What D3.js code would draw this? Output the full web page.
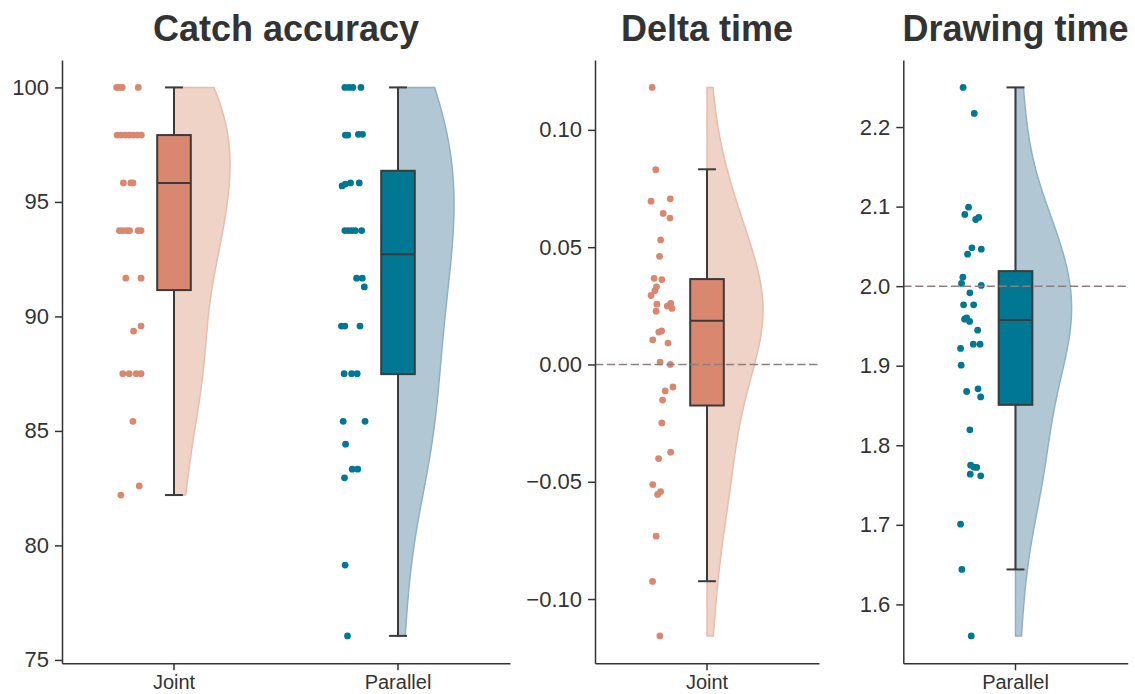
<!DOCTYPE html>
<html>
<head>
<meta charset="utf-8">
<script src="https://cdn.jsdelivr.net/npm/d3@7"></script>
<style>
body { margin: 0; background: #fff; }
text { font-family: "Liberation Sans", Arial, sans-serif; fill: #333; }
</style>
</head>
<body>
<svg width="1135" height="694"></svg>
<script>
// Catch accuracy (%)
var catchCategories = ["Joint", "Parallel"];
var catchJoint = [100, 100, 100, 100,
  97.92, 97.92, 97.92, 97.92, 97.92, 97.92, 97.92,
  95.83, 95.83, 95.83,
  93.75, 93.75, 93.75, 93.75, 93.75, 93.75,
  91.67, 91.67, 89.58, 89.36,
  87.5, 87.5, 87.5, 87.5, 85.42, 82.6, 82.2];
var catchJointJitter = [-1.04, -0.83, -0.58, 0.75,
  -1.0, -0.67, -0.33, 0, 0.33, 0.67, 1.0,
  -0.48, 0.13, 0.31,
  -0.81, -0.53, -0.19, 0.03, 0.73, 0.98,
  -0.28, 0.98, 0.98, 0.36,
  -0.53, 0, 0.58, 0.98, 0.31, 0.83, -0.69];
var catchParallel = [100, 100, 100, 100,
  97.92, 97.92, 97.95, 97.95,
  95.7, 95.78, 95.83, 95.83,
  93.75, 93.75, 93.75, 93.75, 93.75,
  91.67, 91.67, 91.29,
  89.58, 89.58, 89.58,
  87.5, 87.5, 87.5, 85.42, 85.42, 84.42,
  83.33, 83.33, 82.95, 79.14, 76.05];
var catchParallelJitter = [-0.69, -0.36, -0.03, 0.64,
  -0.65, -0.44, 0.43, 0.77,
  -0.92, -0.65, -0.22, 0.5,
  -0.69, -0.4, -0.11, 0.18, 0.7,
  0.28, 0.75, 0.92,
  -0.97, -0.69, 0.56,
  -0.75, -0.13, 0.33, -0.83, 0.98, -0.63,
  -0.08, 0.37, -0.72, -0.67, -0.47];
// whisker low, q1, median, q3, whisker high
var catchBoxJoint = [82.2, 91.15, 95.83, 97.92, 100];
var catchBoxParallel = [76.05, 87.48, 92.72, 96.36, 100];
var catchTicks = [75, 80, 85, 90, 95, 100];

// Delta time
var deltaCategories = ["Joint"];
var deltaJoint = [0.1181, 0.0830, 0.0696, 0.0706, 0.0644, 0.0624, 0.0531, 0.0461,
  0.0367, 0.0362, 0.0331, 0.0314, 0.0294, 0.0257, 0.0260, 0.0249, 0.0239, 0.0227,
  0.0143, 0.0138, 0.0105, 0.0091, 0.0010, 0.0000, -0.0096, -0.0113, -0.0152,
  -0.0249, -0.0374, -0.0401, -0.0512, -0.0542, -0.0554, -0.0732, -0.0925, -0.1157];
var deltaJitter = [-0.83, -0.53, -0.92, 0.67, 0.08, 0.64, -0.13, -0.22,
  -0.67, -0.03, -0.47, -0.61, -0.92, -0.44, 0.7, 0.42, 0.81, -0.5,
  -0.05, -0.28, -0.78, 0.48, -0.17, 0.67, 0.89, 0.25, 0.03,
  -0.03, 0.7, -0.3, -0.78, -0.13, -0.38, -0.5, -0.8, -0.19];
var deltaBox = [-0.0924, -0.0175, 0.0186, 0.0364, 0.0832];
var deltaTicks = [-0.10, -0.05, 0.00, 0.05, 0.10];
var deltaRef = 0;

// Drawing time
var drawCategories = ["Parallel"];
var drawParallel = [2.2498, 2.2171, 2.0993, 2.0901, 2.0838, 2.0864, 2.0482, 2.0465,
  2.0402, 2.0113, 2.0034, 2.0009, 1.9916, 1.9765, 1.9765, 1.9585, 1.9602, 1.9556,
  1.9447, 1.9217, 1.9271, 1.9271, 1.9007, 1.8676, 1.8709, 1.8608, 1.8194, 1.7750,
  1.7725, 1.7721, 1.7637, 1.7616, 1.7008, 1.6439, 1.5604];
var drawJitter = [-0.62, 0.3, -0.17, -0.48, 0.42, 0.67, 0.11, 0.88,
  -0.25, -0.64, -0.75, 0.88, -0.06, -0.58, 0.25, -0.5, -0.33, -0.08,
  0.58, -0.83, 0.22, 0.78, -0.78, -0.33, 0.61, 0.83, -0.06, 0,
  0.28, 0.5, -0.03, 0.83, -0.83, -0.72, 0.05];
var drawBox = [1.6439, 1.8508, 1.9576, 2.0189, 2.2498];
var drawTicks = [1.6, 1.7, 1.8, 1.9, 2.0, 2.1, 2.2];
var drawRef = 2.0;

var colors = {
  Joint: {point: "#d9876f", box: "#d9886f", fill: "#efd3c7", edge: "#e8bdac"},
  Parallel: {point: "#007894", box: "#007894", fill: "#b1c8d4", edge: "#90b1c3"}
};

var plotTop = 60, plotBottom = 663.3;

var panels = [
  {title: "Catch accuracy", x0: 62, x1: 510, cats: catchCategories,
   groups: [{cat: "Joint", values: catchJoint, jitter: catchJointJitter, box: catchBoxJoint},
            {cat: "Parallel", values: catchParallel, jitter: catchParallelJitter, box: catchBoxParallel}],
   ticks: catchTicks, fmt: d3.format("d"), ref: null},
  {title: "Delta time", x0: 595, x1: 819, cats: deltaCategories,
   groups: [{cat: "Joint", values: deltaJoint, jitter: deltaJitter, box: deltaBox}],
   ticks: deltaTicks, fmt: d3.format(".2f"), ref: deltaRef},
  {title: "Drawing time", x0: 903.3, x1: 1127.7, cats: drawCategories,
   groups: [{cat: "Parallel", values: drawParallel, jitter: drawJitter, box: drawBox}],
   ticks: drawTicks, fmt: d3.format(".1f"), ref: drawRef}
];

var svg = d3.select("svg");

function kde(values, grid) {
  var n = values.length;
  var h = d3.deviation(values) * Math.pow(n, -0.2);
  return grid.map(function(g) {
    var s = d3.sum(values, function(v) {
      var u = (g - v) / h;
      return Math.exp(-0.5 * u * u);
    });
    return [g, s / (n * h * Math.sqrt(2 * Math.PI))];
  });
}

panels.forEach(function(p) {
  var all = d3.merge(p.groups.map(function(g) { return g.values; }));
  var ext = d3.extent(all);
  var pad = (ext[1] - ext[0]) * 0.05;
  var y = d3.scaleLinear().domain([ext[0] - pad, ext[1] + pad]).range([plotBottom, plotTop]);
  var x = d3.scaleBand().domain(p.cats).range([p.x0, p.x1]).padding(0);
  var bw = x.bandwidth();

  var g = svg.append("g");

  p.groups.forEach(function(grp) {
    var c = colors[grp.cat];
    var cx = x(grp.cat) + bw / 2;

    // half violin
    var lo = d3.min(grp.values), hi = d3.max(grp.values);
    var grid = d3.range(0, 101).map(function(i) { return lo + (hi - lo) * i / 100; });
    var dens = kde(grp.values, grid);
    var maxD = d3.max(dens, function(d) { return d[1]; });
    var w = d3.scaleLinear().domain([0, maxD]).range([0, bw * 0.25]);
    var area = d3.area()
      .y(function(d) { return y(d[0]); })
      .x0(cx)
      .x1(function(d) { return cx + w(d[1]); });
    g.append("path")
      .datum(dens)
      .attr("d", area)
      .attr("fill", c.fill)
      .attr("stroke", c.edge)
      .attr("stroke-width", 1.5);

    // jittered points
    g.selectAll(null)
      .data(grp.values.map(function(v, i) { return {v: v, j: grp.jitter[i]}; }))
      .enter()
      .append("circle")
      .attr("cx", function(d) { return cx - bw * 0.2 + d.j * bw * 0.054; })
      .attr("cy", function(d) { return y(d.v); })
      .attr("r", 3.4)
      .attr("fill", c.point);

    // box
    var b = grp.box;
    var bh = bw * 0.15, cap = bw * 0.04;
    var bx = g.append("g").attr("stroke", "#3b3b3b").attr("stroke-width", 2);
    bx.append("line").attr("x1", cx).attr("x2", cx).attr("y1", y(b[3])).attr("y2", y(b[4]));
    bx.append("line").attr("x1", cx).attr("x2", cx).attr("y1", y(b[1])).attr("y2", y(b[0]));
    bx.append("line").attr("x1", cx - cap).attr("x2", cx + cap).attr("y1", y(b[4])).attr("y2", y(b[4]));
    bx.append("line").attr("x1", cx - cap).attr("x2", cx + cap).attr("y1", y(b[0])).attr("y2", y(b[0]));
    bx.append("rect")
      .attr("x", cx - bh / 2).attr("width", bh)
      .attr("y", y(b[3])).attr("height", y(b[1]) - y(b[3]))
      .attr("fill", c.box);
    bx.append("line").attr("x1", cx - bh / 2).attr("x2", cx + bh / 2).attr("y1", y(b[2])).attr("y2", y(b[2]));
  });

  if (p.ref !== null) {
    g.append("line")
      .attr("x1", p.x0).attr("x2", p.x1)
      .attr("y1", y(p.ref)).attr("y2", y(p.ref))
      .attr("stroke", "#8e7f7f")
      .attr("stroke-width", 1.5)
      .attr("stroke-dasharray", "8.3,3.6");
  }

  var yAxis = g.append("g")
    .attr("transform", "translate(" + p.x0 + ",0)")
    .call(d3.axisLeft(y).tickValues(p.ticks).tickFormat(p.fmt).tickSize(7).tickSizeOuter(0).tickPadding(6));
  yAxis.selectAll("text").style("font-size", "22px").attr("fill", "#333");

  var xAxis = g.append("g")
    .attr("transform", "translate(0," + plotBottom + ")")
    .call(d3.axisBottom(x).tickSize(7).tickSizeOuter(0).tickPadding(5));
  xAxis.selectAll("text").style("font-size", "20px").attr("fill", "#333");

  g.selectAll(".domain, .tick line").attr("stroke", "#333").attr("stroke-width", 1.5);

  g.append("text")
    .attr("x", (p.x0 + p.x1) / 2)
    .attr("y", 41)
    .attr("text-anchor", "middle")
    .style("font-size", "36px")
    .style("font-weight", "bold")
    .text(p.title);
});
</script>
</body>
</html>
